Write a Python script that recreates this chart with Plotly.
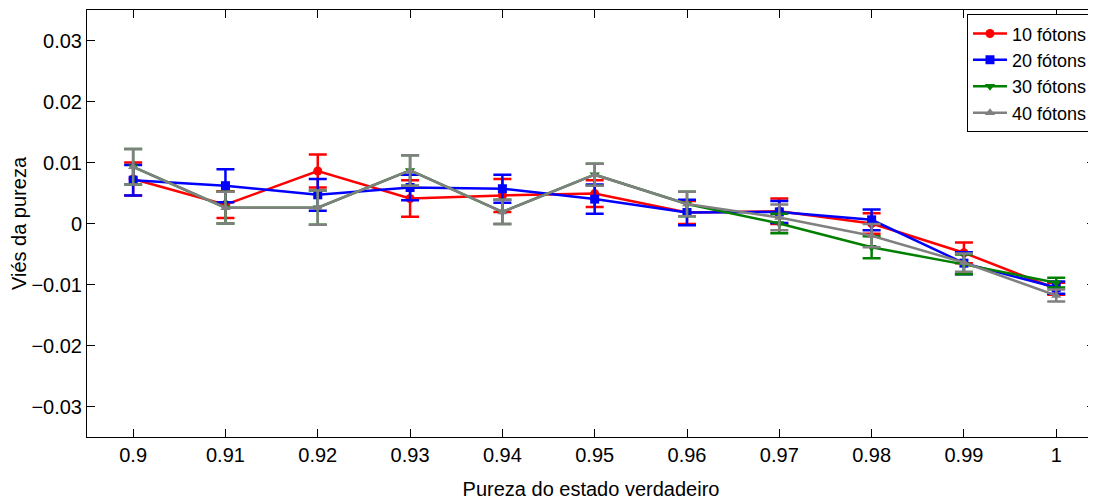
import plotly.graph_objects as go

pureza = [0.90, 0.91, 0.92, 0.93, 0.94, 0.95, 0.96, 0.97, 0.98, 0.99, 1.00]
x_ticktext = ["0.9", "0.91", "0.92", "0.93", "0.94", "0.95", "0.96", "0.97", "0.98", "0.99", "1"]
y_tickvals = [-0.03, -0.02, -0.01, 0, 0.01, 0.02, 0.03]
y_ticktext = ["\u22120.03", "\u22120.02", "\u22120.01", "0", "0.01", "0.02", "0.03"]

vies_10 = [0.0073, 0.0031, 0.0086, 0.0041, 0.0046, 0.0049, 0.0018, 0.0020, 0.0000, -0.0048, -0.0107]
err_10 = [0.0027, 0.0022, 0.0027, 0.0030, 0.0027, 0.0022, 0.0019, 0.0021, 0.0017, 0.0017, 0.0010]

vies_20 = [0.0071, 0.0062, 0.0047, 0.0059, 0.0057, 0.0040, 0.0018, 0.0019, 0.0006, -0.0065, -0.0105]
err_20 = [0.0025, 0.0027, 0.0026, 0.0021, 0.0023, 0.0024, 0.0021, 0.0018, 0.0017, 0.0018, 0.0010]

vies_30 = [0.0093, 0.0026, 0.0026, 0.0087, 0.0019, 0.0080, 0.0032, 0.0000, -0.0039, -0.0067, -0.0097]
err_30 = [0.0029, 0.0026, 0.0028, 0.0025, 0.0020, 0.0018, 0.0020, 0.0016, 0.0018, 0.0016, 0.0008]

vies_40 = [0.0093, 0.0026, 0.0026, 0.0087, 0.0019, 0.0080, 0.0032, 0.0010, -0.0020, -0.0064, -0.0118]
err_40 = [0.0029, 0.0026, 0.0028, 0.0025, 0.0020, 0.0018, 0.0020, 0.0021, 0.0019, 0.0015, 0.0010]

series = [
    ("10 fótons", vies_10, err_10, "#ff0000", "circle"),
    ("20 fótons", vies_20, err_20, "#0000ff", "square"),
    ("30 fótons", vies_30, err_30, "#008000", "triangle-down"),
    ("40 fótons", vies_40, err_40, "#808080", "triangle-up"),
]

FONT = "Liberation Sans, Arial, Helvetica, sans-serif"
FS = 20

fig = go.Figure()
for name, y, e, color, sym in series:
    fig.add_trace(go.Scatter(
        x=pureza, y=y, name=name, mode="lines+markers",
        line=dict(color=color, width=2.5),
        marker=dict(symbol=sym, size=9, color=color),
        error_y=dict(type="data", array=e, visible=True, color=color,
                     thickness=2.5, width=9),
    ))

axis_common = dict(
    showline=True, linecolor="black", linewidth=1, mirror="ticks",
    ticks="inside", ticklen=8, tickcolor="black", tickwidth=1,
    showgrid=False, zeroline=False,
    tickfont=dict(family=FONT, size=FS, color="black"),
)

fig.update_layout(
    width=1088, height=496,
    margin=dict(l=79, r=1, t=2, b=67),
    paper_bgcolor="white", plot_bgcolor="white",
    font=dict(family=FONT, size=FS, color="black"),
    xaxis=dict(range=[0.895, 1.0042], tickvals=pureza, ticktext=x_ticktext,
               title=dict(text="Pureza do estado verdadeiro", font=dict(size=FS), standoff=16),
               **axis_common),
    yaxis=dict(range=[-0.035, 0.035], tickvals=y_tickvals, ticktext=y_ticktext,
               title=dict(text="Viés da pureza", font=dict(size=FS), standoff=2),
               **axis_common),
    legend=dict(x=0.998, xanchor="right", y=0.99, yanchor="top",
                bgcolor="white", bordercolor="black", borderwidth=1,
                font=dict(family=FONT, size=18), tracegroupgap=0,
                itemwidth=34),
    showlegend=True,
)

fig.write_html("out.html")
